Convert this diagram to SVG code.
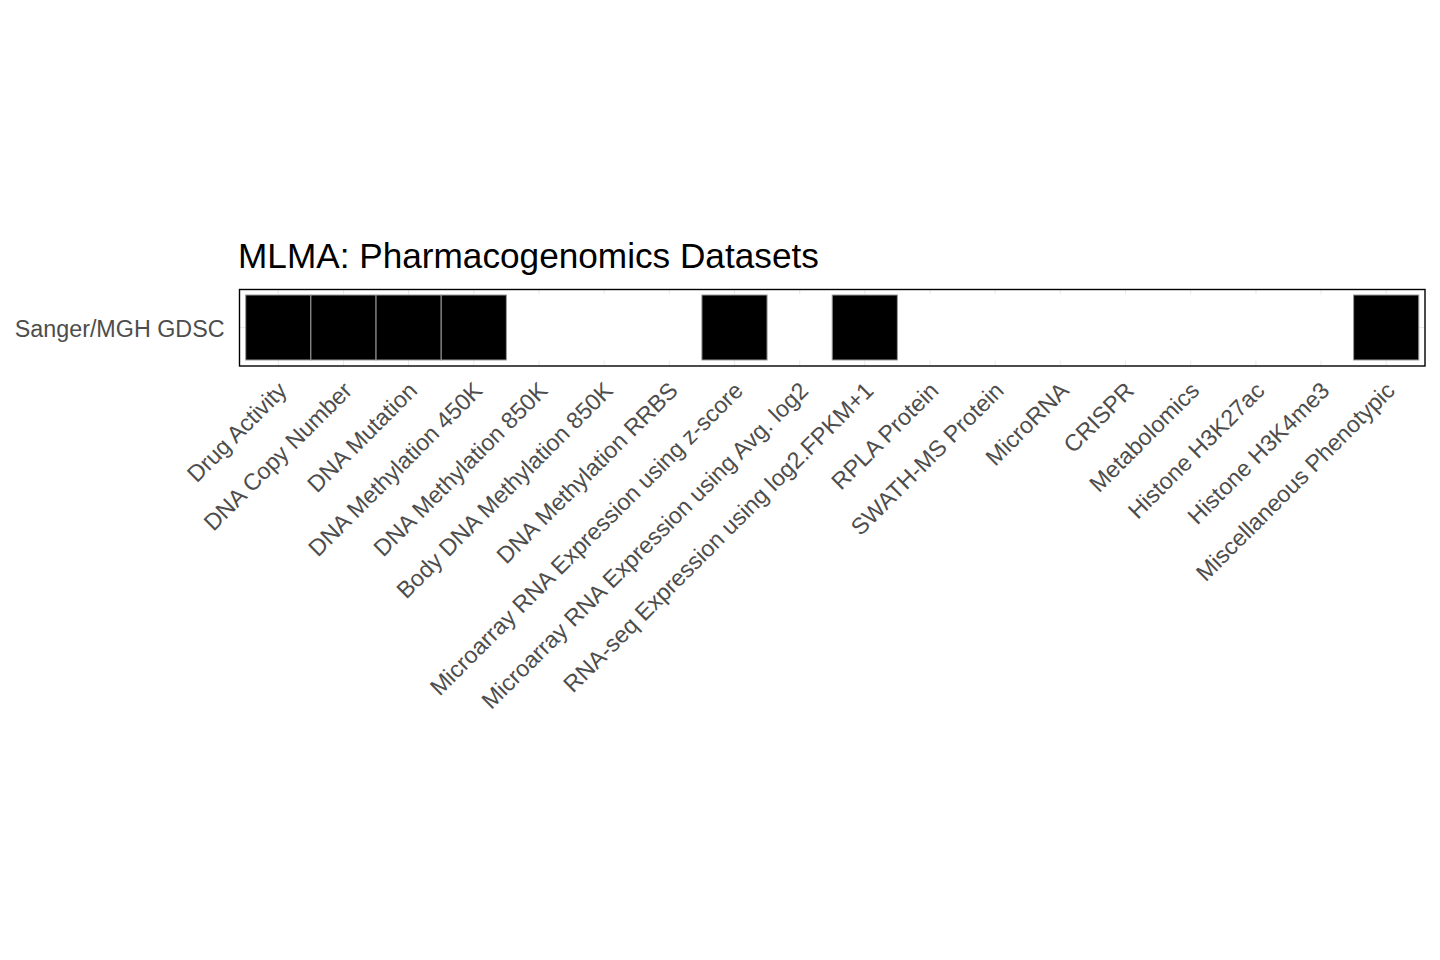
<svg xmlns="http://www.w3.org/2000/svg" width="1440" height="960" viewBox="0 0 1440 960">
<style>
.ax{font-family:"Liberation Sans",Arial,sans-serif;font-size:23.3px;fill:#4D4D4D}
.title{font-family:"Liberation Sans",Arial,sans-serif;font-size:35.2px;fill:#000}
.grid{stroke:#EBEBEB;stroke-width:1.1}
.tile{fill:#000;stroke:#999;stroke-width:1}
.empty{fill:#fff;stroke:#fff;stroke-width:1}
</style>
<rect width="1440" height="960" fill="#fff"/>
<text class="title" x="238" y="268">MLMA: Pharmacogenomics Datasets</text>
<g id="grid">
<line class="grid" x1="239" y1="327.5" x2="1425" y2="327.5"/>
<line class="grid" x1="278.3" y1="290" x2="278.3" y2="366"/>
<line class="grid" x1="343.5" y1="290" x2="343.5" y2="366"/>
<line class="grid" x1="408.6" y1="290" x2="408.6" y2="366"/>
<line class="grid" x1="473.8" y1="290" x2="473.8" y2="366"/>
<line class="grid" x1="539.0" y1="290" x2="539.0" y2="366"/>
<line class="grid" x1="604.2" y1="290" x2="604.2" y2="366"/>
<line class="grid" x1="669.3" y1="290" x2="669.3" y2="366"/>
<line class="grid" x1="734.5" y1="290" x2="734.5" y2="366"/>
<line class="grid" x1="799.7" y1="290" x2="799.7" y2="366"/>
<line class="grid" x1="864.8" y1="290" x2="864.8" y2="366"/>
<line class="grid" x1="930.0" y1="290" x2="930.0" y2="366"/>
<line class="grid" x1="995.2" y1="290" x2="995.2" y2="366"/>
<line class="grid" x1="1060.3" y1="290" x2="1060.3" y2="366"/>
<line class="grid" x1="1125.5" y1="290" x2="1125.5" y2="366"/>
<line class="grid" x1="1190.7" y1="290" x2="1190.7" y2="366"/>
<line class="grid" x1="1255.9" y1="290" x2="1255.9" y2="366"/>
<line class="grid" x1="1321.0" y1="290" x2="1321.0" y2="366"/>
<line class="grid" x1="1386.2" y1="290" x2="1386.2" y2="366"/>
</g>
<g id="empty-tiles">
<rect class="empty" x="506.38" y="295" width="65.17" height="65"/>
<rect class="empty" x="571.55" y="295" width="65.17" height="65"/>
<rect class="empty" x="636.72" y="295" width="65.17" height="65"/>
<rect class="empty" x="767.07" y="295" width="65.17" height="65"/>
<rect class="empty" x="897.4" y="295" width="65.17" height="65"/>
<rect class="empty" x="962.57" y="295" width="65.17" height="65"/>
<rect class="empty" x="1027.74" y="295" width="65.17" height="65"/>
<rect class="empty" x="1092.91" y="295" width="65.17" height="65"/>
<rect class="empty" x="1158.08" y="295" width="65.17" height="65"/>
<rect class="empty" x="1223.25" y="295" width="65.17" height="65"/>
<rect class="empty" x="1288.42" y="295" width="65.17" height="65"/>
</g>
<g id="tiles">
<rect id="t-drug" class="tile" x="245.7" y="295" width="65.17" height="65"/>
<rect id="t-cnv" class="tile" x="310.87" y="295" width="65.17" height="65"/>
<rect id="t-mut" class="tile" x="376.04" y="295" width="65.17" height="65"/>
<rect id="t-met450" class="tile" x="441.21" y="295" width="65.17" height="65"/>
<rect id="t-zscore" class="tile" x="701.9" y="295" width="65.17" height="65"/>
<rect id="t-rnaseq" class="tile" x="832.2" y="295" width="65.17" height="65"/>
<rect id="t-misc" class="tile" x="1353.6" y="295" width="65.17" height="65"/>
</g>
<rect id="panel" x="239.5" y="289.5" width="1185.5" height="76.5" fill="none" stroke="#000" stroke-width="1.4"/>
<text class="ax" x="224.5" y="337" text-anchor="end">Sanger/MGH GDSC</text>
<g id="xlabels" class="ax" text-anchor="end">
<text transform="translate(288.3,392) rotate(-45)">Drug Activity</text>
<text transform="translate(353.5,392) rotate(-45)">DNA Copy Number</text>
<text transform="translate(418.6,392) rotate(-45)">DNA Mutation</text>
<text transform="translate(483.8,392) rotate(-45)">DNA Methylation 450K</text>
<text transform="translate(549.0,392) rotate(-45)">DNA Methylation 850K</text>
<text transform="translate(614.2,392) rotate(-45)">Body DNA Methylation 850K</text>
<text transform="translate(679.3,392) rotate(-45)">DNA Methylation RRBS</text>
<text transform="translate(744.5,392) rotate(-45)">Microarray RNA Expression using z-score</text>
<text transform="translate(809.7,392) rotate(-45)">Microarray RNA Expression using Avg. log2</text>
<text transform="translate(874.8,392) rotate(-45)">RNA-seq Expression using log2.FPKM+1</text>
<text transform="translate(940.0,392) rotate(-45)">RPLA Protein</text>
<text transform="translate(1005.2,392) rotate(-45)">SWATH-MS Protein</text>
<text transform="translate(1070.3,392) rotate(-45)">MicroRNA</text>
<text transform="translate(1135.5,392) rotate(-45)">CRISPR</text>
<text transform="translate(1200.7,392) rotate(-45)">Metabolomics</text>
<text transform="translate(1265.9,392) rotate(-45)">Histone H3K27ac</text>
<text transform="translate(1331.0,392) rotate(-45)">Histone H3K4me3</text>
<text transform="translate(1396.2,392) rotate(-45)">Miscellaneous Phenotypic</text>
</g>
</svg>
